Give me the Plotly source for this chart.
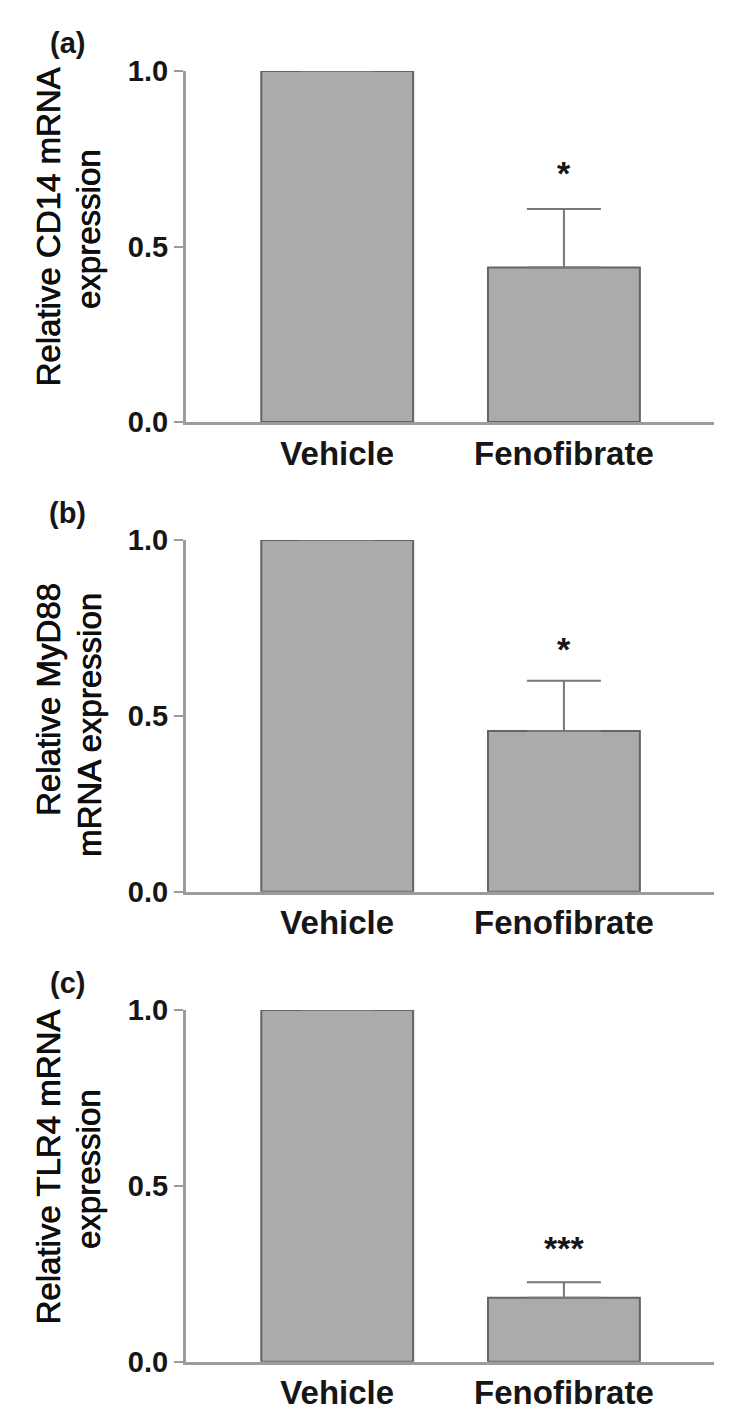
import plotly.graph_objects as go

# ---- data ----
categories = ["Vehicle", "Fenofibrate"]
cd14_mean = [1.0, 0.44]
cd14_sem = [0.0, 0.167]
myd88_mean = [1.0, 0.457]
myd88_sem = [0.0, 0.143]
tlr4_mean = [1.0, 0.182]
tlr4_sem = [0.0, 0.044]
sig_labels = ["*", "*", "***"]
sig_y = [0.718, 0.70, 0.332]
panel_labels = ["(a)", "(b)", "(c)"]
title_line1 = ["Relative CD14 mRNA", "Relative MyD88", "Relative TLR4 mRNA"]
title_line2 = ["expression", "mRNA expression", "expression"]
y_ticks = [0.0, 0.5, 1.0]
y_ticktext = ["0.0", "0.5", "1.0"]

W, H = 750, 1424
OFF = 8  # page body offset compensation
FONT = "Liberation Sans, Arial, sans-serif"
TXT = "#161616"
TITLE_COL = "#0e0e0e"


def px_x(x):
    return (x - OFF) / W


def px_y(y):
    return 1 - (y - OFF) / H


# pixel layout (top, bottom of y axis, in px from top)
panels_px = [(71, 422), (540, 891.7), (1010, 1361.7)]
x_dom = [px_x(186), px_x(714)]
title_pos = [  # (x1, y1, x2, y2) centers in px
    (48, 227.5, 88, 229),
    (48, 700, 89, 725),
    (48, 1167.5, 88, 1169),
]
label_pos = [(67, 43), (67, 513), (67, 983)]

means = [cd14_mean, myd88_mean, tlr4_mean]
sems = [cd14_sem, myd88_sem, tlr4_sem]

fig = go.Figure()
annotations = []
layout_axes = {}
title_font = dict(family=FONT, size=33, color=TITLE_COL,
                  shadow="0.5px 0px 0px #0e0e0e, -0.3px 0px 0px #0e0e0e")
for i in range(3):
    suf = "" if i == 0 else str(i + 1)
    fig.add_trace(go.Bar(
        x=categories, y=means[i],
        xaxis="x" + suf, yaxis="y" + suf,
        width=0.67,
        marker=dict(color="#ababab", line=dict(color="#646464", width=2)),
        error_y=dict(type="data", symmetric=False, array=sems[i],
                     arrayminus=[0, 0], color="#777777", thickness=2, width=37),
        showlegend=False,
    ))
    top, bot = panels_px[i]
    layout_axes["xaxis" + suf] = dict(
        domain=x_dom, anchor="y" + suf, type="category",
        range=[-0.667, 1.662], showline=True, linecolor="#9c9c9c", linewidth=3,
        ticks="",
        tickfont=dict(family=FONT, size=33, color=TXT, weight="bold"),
        showgrid=False, zeroline=False, fixedrange=True, automargin=False,
    )
    layout_axes["yaxis" + suf] = dict(
        domain=[px_y(bot), px_y(top)], anchor="x" + suf,
        range=[0, 1], tickvals=y_ticks, ticktext=y_ticktext,
        showline=True, linecolor="#9c9c9c", linewidth=3,
        ticks="outside", ticklen=9, tickwidth=2, tickcolor="#9c9c9c",
        tickfont=dict(family=FONT, size=29, color=TXT, weight="bold"),
        showgrid=False, zeroline=False, fixedrange=True, automargin=False,
    )
    annotations.append(dict(
        x=categories[1], y=sig_y[i], xref="x" + suf, yref="y" + suf,
        text=sig_labels[i], showarrow=False, yanchor="middle", yshift=-3,
        font=dict(family=FONT, size=34, color=TXT, weight="bold"),
    ))
    x1, y1, x2, y2 = title_pos[i]
    annotations.append(dict(
        x=px_x(x1), y=px_y(y1), xref="paper", yref="paper",
        text=title_line1[i], textangle=-90, showarrow=False,
        xanchor="center", yanchor="middle", font=title_font,
    ))
    annotations.append(dict(
        x=px_x(x2), y=px_y(y2), xref="paper", yref="paper",
        text=title_line2[i], textangle=-90, showarrow=False,
        xanchor="center", yanchor="middle", font=title_font,
    ))
    lx, ly = label_pos[i]
    annotations.append(dict(
        x=px_x(lx), y=px_y(ly), xref="paper", yref="paper",
        text=panel_labels[i], showarrow=False,
        xanchor="center", yanchor="middle",
        font=dict(family=FONT, size=29, color=TXT, weight="bold"),
    ))

fig.update_layout(
    width=W, height=H,
    margin=dict(l=0, r=0, t=0, b=0, pad=0, autoexpand=False),
    paper_bgcolor="white", plot_bgcolor="white",
    annotations=annotations,
    **layout_axes,
)
fig.write_html("out.html")
